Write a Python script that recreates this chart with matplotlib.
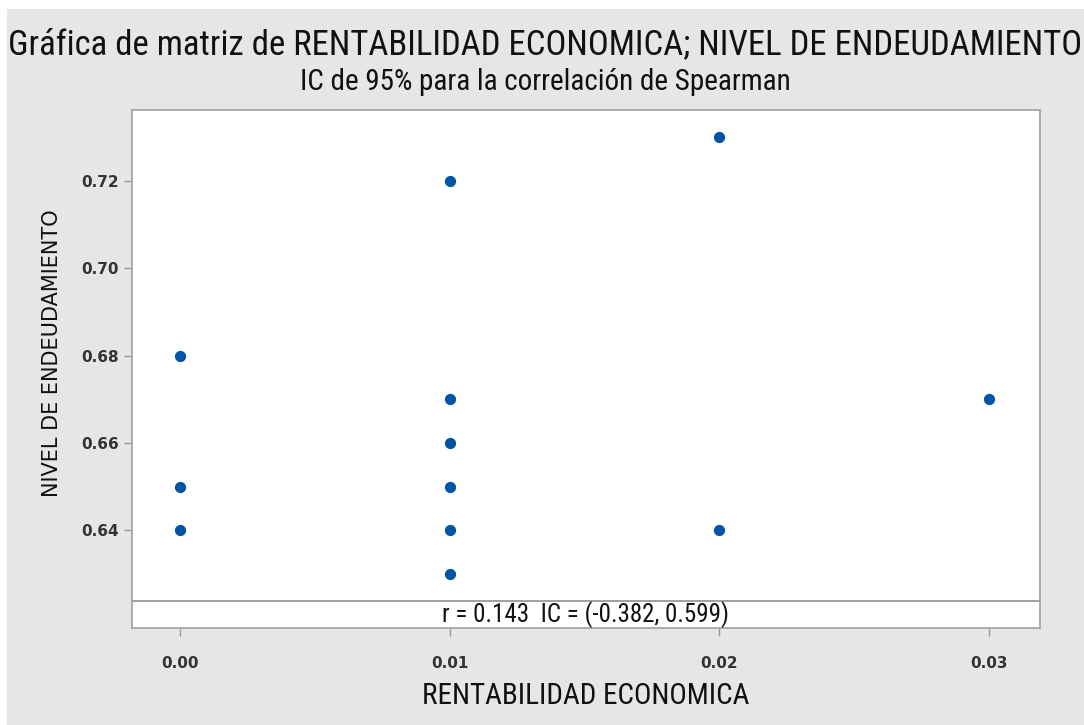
import matplotlib.pyplot as plt

# Datos
rentabilidad = [0.00, 0.00, 0.00, 0.01, 0.01, 0.01, 0.01, 0.01, 0.01, 0.02, 0.02, 0.03]
endeudamiento = [0.68, 0.65, 0.64, 0.72, 0.67, 0.66, 0.65, 0.64, 0.63, 0.73, 0.64, 0.67]
x_ticks = [0.00, 0.01, 0.02, 0.03]
y_ticks = [0.64, 0.66, 0.68, 0.70, 0.72]
r_text = "r = 0.143  IC = (-0.382, 0.599)"

narrow = ["Roboto Condensed", "Liberation Sans Narrow", "Lato", "DejaVu Sans"]
bg = "#e6e6e6"

fig = plt.figure(figsize=(10.84, 7.25), dpi=100)
fig.patch.set_facecolor("white")
# fondo gris con un borde blanco fino
fig.patches.append(plt.Rectangle((0.006, 0.0), 0.994, 0.988, transform=fig.transFigure,
                                 facecolor=bg, edgecolor="none", zorder=-10))

x0, x1 = -0.0018, 0.0319
ax = fig.add_axes([132 / 1084, 1 - 628 / 725, (1040 - 132) / 1084, (628 - 110) / 725])
ax.set_facecolor("white")
ax.scatter(rentabilidad, endeudamiento, s=50, color="#0054a6", zorder=3)

ax.set_xlim(x0, x1)
ax.set_ylim(0.6176, 0.7363)
# franja inferior con la correlacion
ax.axhline(0.6238, color="#909090", lw=1.2)
ax.text((x0 + x1) / 2, 0.6206, r_text, ha="center", va="center",
        fontsize=18, family=narrow, color="#111111")

ax.set_xticks(x_ticks)
ax.set_xticklabels([f"{v:.2f}" for v in x_ticks])
ax.set_yticks(y_ticks)
ax.set_yticklabels([f"{v:.2f}" for v in y_ticks])
ax.tick_params(colors="#999999", labelcolor="#333333", labelsize=11, length=6, width=1)
ax.tick_params(axis="x", pad=14)
for lab in ax.get_xticklabels() + ax.get_yticklabels():
    lab.set_fontweight("bold")
for sp in ax.spines.values():
    sp.set_color("#a0a0a0")
    sp.set_linewidth(1.2)

ax.set_xlabel("RENTABILIDAD ECONOMICA", fontsize=21, family=narrow, color="#111111", labelpad=8)
ax.set_ylabel("NIVEL DE ENDEUDAMIENTO", fontsize=15, color="#111111")
ax.yaxis.set_label_coords(-0.077, 0.53)

fig.text(0.503, 1 - 45 / 725, "Gráfica de matriz de RENTABILIDAD ECONOMICA; NIVEL DE ENDEUDAMIENTO",
         ha="center", va="center", fontsize=25, family=narrow, color="#111111")
fig.text(0.503, 1 - 82 / 725, "IC de 95% para la correlación de Spearman",
         ha="center", va="center", fontsize=21, family=narrow, color="#111111")

fig.savefig("out.png", dpi=100, facecolor=fig.get_facecolor())
